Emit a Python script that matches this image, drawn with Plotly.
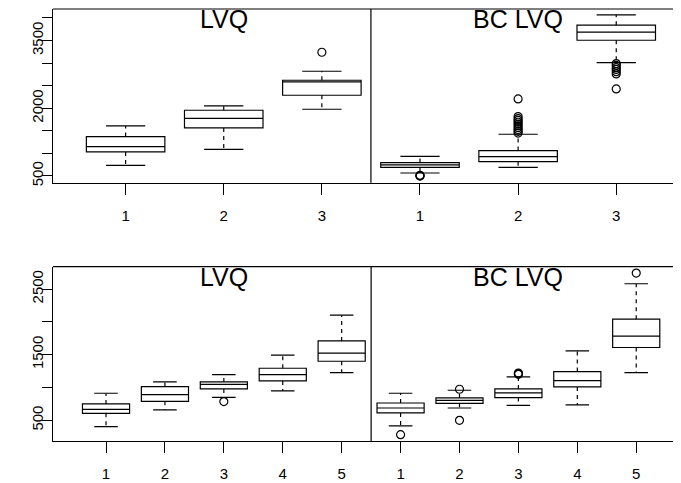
import plotly.graph_objects as go

# ---------------- data ----------------
top_labels = ["1", "2", "3"]
bottom_labels = ["1", "2", "3", "4", "5"]
panel_titles = ["LVQ", "BC LVQ"]

# top panel, LVQ
top_lvq_lower = [736, 1091, 1978]
top_lvq_q1 = [1032, 1564, 2288]
top_lvq_med = [1150, 1778, 2584]
top_lvq_q3 = [1372, 1956, 2621]
top_lvq_upper = [1608, 2052, 2820]
top_lvq_out = [[], [], [3241]]

# top panel, BC LVQ
top_bc_lower = [566, 692, 3012]
top_bc_q1 = [692, 818, 3507]
top_bc_med = [744, 929, 3685]
top_bc_q3 = [796, 1062, 3840]
top_bc_upper = [936, 1424, 4069]
top_bc_out = [[498, 507, 515],
              [1450, 1490, 1530, 1570, 1610, 1650, 1690, 1730, 1770, 1815, 2207],
              [2990, 2950, 2900, 2860, 2810, 2760, 2429]]

# bottom panel, LVQ
bot_lvq_lower = [403, 658, 851, 948, 1227]
bot_lvq_q1 = [607, 790, 978, 1100, 1400]
bot_lvq_med = [668, 892, 1049, 1197, 1522]
bot_lvq_q3 = [749, 1014, 1085, 1293, 1710]
bot_lvq_upper = [912, 1085, 1197, 1492, 2102]
bot_lvq_out = [[], [], [785], [], []]

# bottom panel, BC LVQ
bot_bc_lower = [414, 688, 729, 734, 1227]
bot_bc_q1 = [612, 759, 846, 1009, 1609]
bot_bc_med = [688, 805, 917, 1105, 1782]
bot_bc_q3 = [764, 841, 978, 1243, 2041]
bot_bc_upper = [912, 958, 1161, 1558, 2580]
bot_bc_out = [[281], [500, 973], [1200, 1210, 1220], [], [2743]]

top_yticks = [500, 1000, 1500, 2000, 2500, 3000, 3500, 4000]
top_yticktext = ["500", "", "", "2000", "", "", "3500", ""]
bot_yticks = [500, 1000, 1500, 2000, 2500]
bot_yticktext = ["500", "", "1500", "", "2500"]

# ---------------- style ----------------
FONT = "Liberation Sans, Arial, Helvetica, sans-serif"
LW = 1.2
BOXW = 0.8
STAPLE = 0.2

fig = go.Figure()


def add_group(xs, lower, q1, med, q3, upper, outs, xa, ya):
    fig.add_trace(go.Box(
        x=xs, q1=q1, median=med, q3=q3, lowerfence=q1, upperfence=q3,
        width=BOXW, whiskerwidth=0, boxpoints=False,
        line=dict(color="black", width=LW), fillcolor="white",
        xaxis=xa, yaxis=ya, showlegend=False, hoverinfo="skip"))
    wx, wy, sx, sy = [], [], [], []
    for x, lo, a, b, hi in zip(xs, lower, q1, q3, upper):
        wx += [x, x, None, x, x, None]
        wy += [b, hi, None, a, lo, None]
        sx += [x - STAPLE, x + STAPLE, None, x - STAPLE, x + STAPLE, None]
        sy += [hi, hi, None, lo, lo, None]
    fig.add_trace(go.Scatter(x=wx, y=wy, mode="lines",
                             line=dict(color="black", width=LW, dash="4px,4px"),
                             xaxis=xa, yaxis=ya, showlegend=False, hoverinfo="skip"))
    fig.add_trace(go.Scatter(x=sx, y=sy, mode="lines",
                             line=dict(color="black", width=LW),
                             xaxis=xa, yaxis=ya, showlegend=False, hoverinfo="skip"))
    ox, oy = [], []
    for x, o in zip(xs, outs):
        ox += [x] * len(o)
        oy += o
    fig.add_trace(go.Scatter(x=ox, y=oy, mode="markers",
                             marker=dict(symbol="circle-open", size=8, color="black",
                                         line=dict(width=LW)),
                             xaxis=xa, yaxis=ya, showlegend=False, hoverinfo="skip"))


nt = len(top_labels)
nb = len(bottom_labels)
top_x1 = list(range(1, nt + 1))
top_x2 = list(range(nt + 1, 2 * nt + 1))
bot_x1 = list(range(1, nb + 1))
bot_x2 = list(range(nb + 1, 2 * nb + 1))

add_group(top_x1, top_lvq_lower, top_lvq_q1, top_lvq_med, top_lvq_q3, top_lvq_upper, top_lvq_out, "x", "y")
add_group(top_x2, top_bc_lower, top_bc_q1, top_bc_med, top_bc_q3, top_bc_upper, top_bc_out, "x", "y")
add_group(bot_x1, bot_lvq_lower, bot_lvq_q1, bot_lvq_med, bot_lvq_q3, bot_lvq_upper, bot_lvq_out, "x2", "y2")
add_group(bot_x2, bot_bc_lower, bot_bc_q1, bot_bc_med, bot_bc_q3, bot_bc_upper, bot_bc_out, "x2", "y2")

axis_common = dict(showline=True, linecolor="black", linewidth=LW, ticks="outside",
                   tickcolor="black", tickwidth=LW, showgrid=False, zeroline=False,
                   automargin=False,
                   tickfont=dict(family=FONT, size=15, color="black"))

# page body has an 8px default margin, so the figure is sized to fit the window
fig.update_layout(
    width=673, height=475,
    margin=dict(l=45, r=0, t=1, b=42),
    paper_bgcolor="white", plot_bgcolor="white",
    boxmode="overlay",
    font=dict(family=FONT, color="black"),
    xaxis=dict(domain=[0, 1], anchor="y", range=[0.26, 6.66],
               tickvals=top_x1 + top_x2, ticktext=top_labels + top_labels,
               ticklen=11, ticklabelstandoff=8, **axis_common),
    yaxis=dict(domain=[0.5979, 1], anchor="x", range=[351, 4199],
               tickvals=top_yticks, ticktext=top_yticktext, tickangle=-90,
               ticklen=10, ticklabelstandoff=-7, **axis_common),
    xaxis2=dict(domain=[0, 1], anchor="y2", range=[0.1, 10.76],
                tickvals=bot_x1 + bot_x2, ticktext=bottom_labels + bottom_labels,
                ticklen=11, ticklabelstandoff=8, **axis_common),
    yaxis2=dict(domain=[0, 0.4035], anchor="x2", range=[185, 2840],
                tickvals=bot_yticks, ticktext=bot_yticktext, tickangle=-90,
                ticklen=10, ticklabelstandoff=-7, **axis_common),
)

# top border lines and panel dividers
for xa, ya, div in [("x", "y", nt + 0.5), ("x2", "y2", nb + 0.5)]:
    fig.add_shape(type="line", xref=f"{xa} domain", yref=f"{ya} domain",
                  x0=0, x1=1, y0=1, y1=1, line=dict(color="black", width=LW))
    fig.add_shape(type="line", xref=xa, yref=f"{ya} domain",
                  x0=div, x1=div, y0=0, y1=1, line=dict(color="black", width=LW))

# panel titles
title_pos = [("x", "y", (nt + 1) / 2, (nt + 1) / 2 + nt),
             ("x2", "y2", (nb + 1) / 2, (nb + 1) / 2 + nb)]
for xa, ya, p1, p2 in title_pos:
    for txt, px in zip(panel_titles, [p1, p2]):
        fig.add_annotation(text=txt, x=px, y=1, xref=xa, yref=f"{ya} domain",
                           xanchor="center", yanchor="top", yshift=6,
                           showarrow=False, font=dict(family=FONT, size=25, color="black"))

fig.write_html("out.html")
